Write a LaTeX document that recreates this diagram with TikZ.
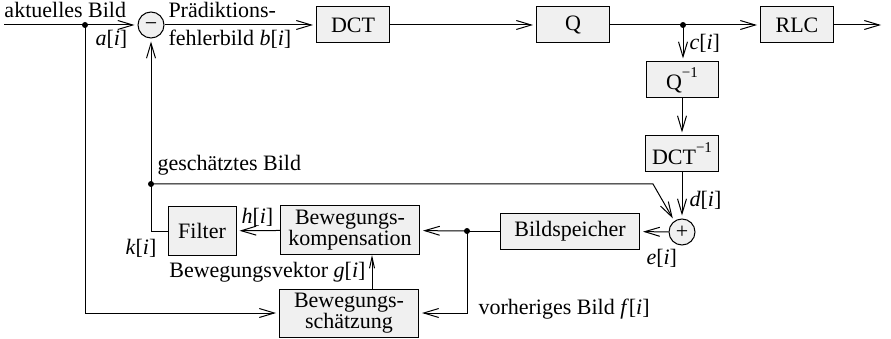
\documentclass[tikz,border=0pt]{standalone}
\usepackage{fontspec}
\setmainfont{Liberation Serif}
\usetikzlibrary{arrows.meta,calc}

\newcommand{\sig}[1]{\textit{#1}[\textit{i}]}
\newcommand{\inv}{\raisebox{0.55em}{\fontsize{15}{15}\selectfont\char"2212 1}}

\begin{document}
\begin{tikzpicture}[x=1pt,y=-1pt,
  font=\fontsize{22}{21}\selectfont,
  line width=1pt,
  blk/.style={draw,fill=black!6,line width=1pt,minimum height=36pt,inner sep=0pt,align=center},
  tall/.style={blk,minimum height=48pt},
  sum/.style={circle,draw,fill=black!6,minimum size=26pt,inner sep=0pt},
  flow/.style={-{Straight Barb[length=15pt,width=9pt,line width=1pt]},shorten >=3pt},
  small/.style={-{Straight Barb[length=11pt,width=5pt,line width=1pt]},shorten >=1pt},
  dot/.style={circle,fill,inner sep=0pt,minimum size=6pt},
  lbl/.style={inner sep=0pt,anchor=base west}
]
\useasboundingbox (0,0) rectangle (891,339);

% forward path
\node[sum] (minus) at (151,25) {};
\node[anchor=base,inner sep=0pt] at ([yshift=-6pt]minus.center) {\char"2212};
\node[blk,minimum width=73pt] (dct) at (353,25) {DCT};
\node[blk,minimum width=73pt] (q) at (573,25) {Q};
\node[blk,minimum width=73pt] (rlc) at (797,25) {RLC};
\node[blk,minimum width=72pt] (qinv) at (682,80) {Q\inv};
\node[blk,minimum width=73pt] (dctinv) at (682,154) {DCT\inv};
\node[sum] (plus) at (682,232) {};
\node[anchor=base,inner sep=0pt] at ([yshift=-6pt]plus.center) {+};

% prediction loop
\node[blk,minimum width=139pt] (mem) at (570,231) {Bildspeicher};
\node[tall,minimum width=139pt] (mc) at (350,230) {Bewegungs-\\kompensation};
\node[tall,minimum width=68pt] (filt) at (202,231) {Filter};
\node[tall,minimum width=139pt] (me) at (349,313) {Bewegungs-\\schätzung};

% branch points
\coordinate (in) at (4,25);
\coordinate (out) at (884,25);
\node[dot] (da) at (85,25) {};
\node[dot] (dc) at (683,25) {};
\node[dot] (dk) at (151,184) {};
\node[dot] (df) at (467,231) {};
\coordinate (bend) at (653,184);

% connectors
\draw[flow] (in) -- (minus);
\draw[flow] (minus) -- (dct);
\draw[flow] (dct) -- (q);
\draw[flow] (q) -- (rlc);
\draw[flow] (rlc) -- (out);
\draw[flow] (dc.center) -- (dc.center |- qinv.north);
\draw[flow] (qinv) -- (dctinv);
\draw[flow] (dctinv) -- (plus);
\draw[flow] (plus) -- (mem);
\draw (mem) -- (df.center);
\draw[flow] (df.center) -- (mc);
\draw[flow] (mc) -- (filt);
\draw[flow] (filt.west) -| (minus);
\draw[flow] (dk.center) -- (bend) -- (plus.125);
\draw[flow] (da.center) |- (me.west);
\draw[flow] (df.center) |- (me.east);
\draw[small] (372,289) -- (372,254);

% labels
\node[lbl] at (4,18) {aktuelles Bild};
\node[lbl] at (95,46) {\sig{a}};
\node[lbl] at (168,18) {Prädiktions-};
\node[lbl] at (168,46) {fehlerbild \sig{b}};
\node[lbl] at (689,50) {\sig{c}};
\node[lbl] at (689,207) {\sig{d}};
\node[lbl] at (157,171) {geschätztes Bild};
\node[lbl] at (241,223) {\sig{h}};
\node[lbl] at (125,254) {\sig{k}};
\node[lbl] at (646,264) {\sig{e}};
\node[inner sep=0pt,anchor=base east] at (366,277) {Bewegungsvektor \sig{g}};
\node[lbl] at (478,314) {vorheriges Bild \sig{f}};
\end{tikzpicture}
\end{document}
